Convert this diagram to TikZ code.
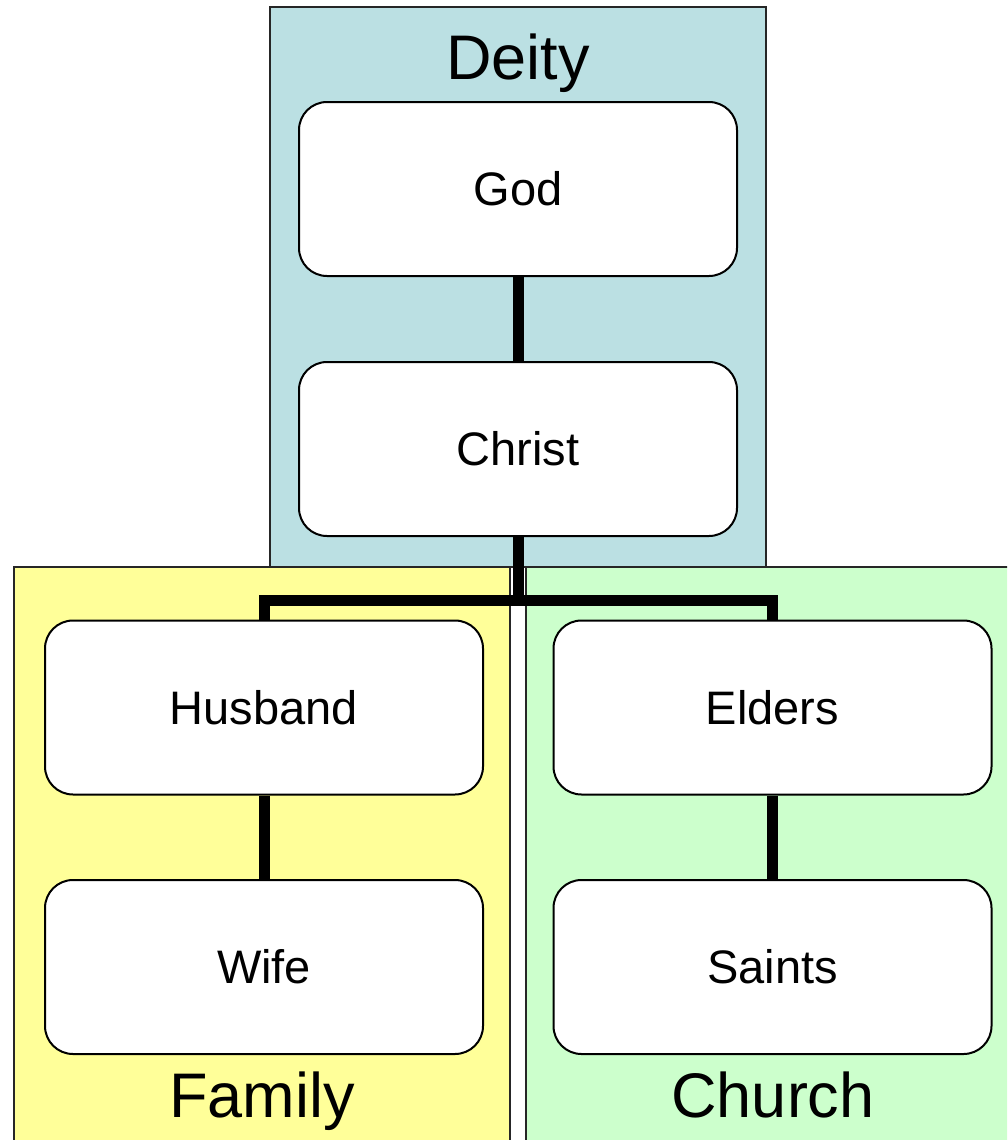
\documentclass[tikz,border=0pt]{standalone}
\usepackage{fontspec}
\setmainfont{Liberation Sans}
\definecolor{deityblue}{RGB}{187,224,227}
\definecolor{familyyellow}{RGB}{255,255,153}
\definecolor{churchgreen}{RGB}{204,255,204}
\begin{document}
\begin{tikzpicture}[x=1pt,y=-1pt,
  card/.style={draw=black, line width=2pt, fill=white, rounded corners=28pt,
    minimum width=438pt, minimum height=174pt, inner sep=0pt,
    font=\fontsize{47}{56}\selectfont},
  link/.style={line width=11pt, line join=miter},
  zone/.style={draw=black!85, line width=2pt},
  title/.style={font=\fontsize{63}{75}\selectfont, anchor=base, inner sep=0pt}]
\useasboundingbox (0,0) rectangle (1007,1140);
\clip (0,0) rectangle (1007,1140);
% zones
\draw[zone, fill=deityblue] (270,7) rectangle (766,567);
\draw[zone, fill=familyyellow] (14,567) rectangle (510,1160);
\draw[zone, fill=churchgreen] (526,567) rectangle (1030,1160);
% titles
\node[title] (deity) at (518,80) {Deity};
\node[title] (family) at (262,1117) {Family};
\node[title] (church) at (773,1117) {Church};
% cards
\node[card] (god) at (518,189) {God};
\node[card] (christ) at (518,449) {Christ};
\node[card] (husband) at (264,707.5) {Husband};
\node[card] (wife) at (264,967) {Wife};
\node[card] (elders) at (772.5,707.5) {Elders};
\node[card] (saints) at (772.5,967) {Saints};
% connectors
\coordinate (bar) at (518,600);
\draw[link] (god.south) -- (christ.north);
\draw[link] (christ.south) -- (bar);
\draw[link] (husband.north) |- (bar) -| (elders.north);
\draw[link] (husband.south) -- (wife.north);
\draw[link] (elders.south) -- (saints.north);
\end{tikzpicture}
\end{document}
